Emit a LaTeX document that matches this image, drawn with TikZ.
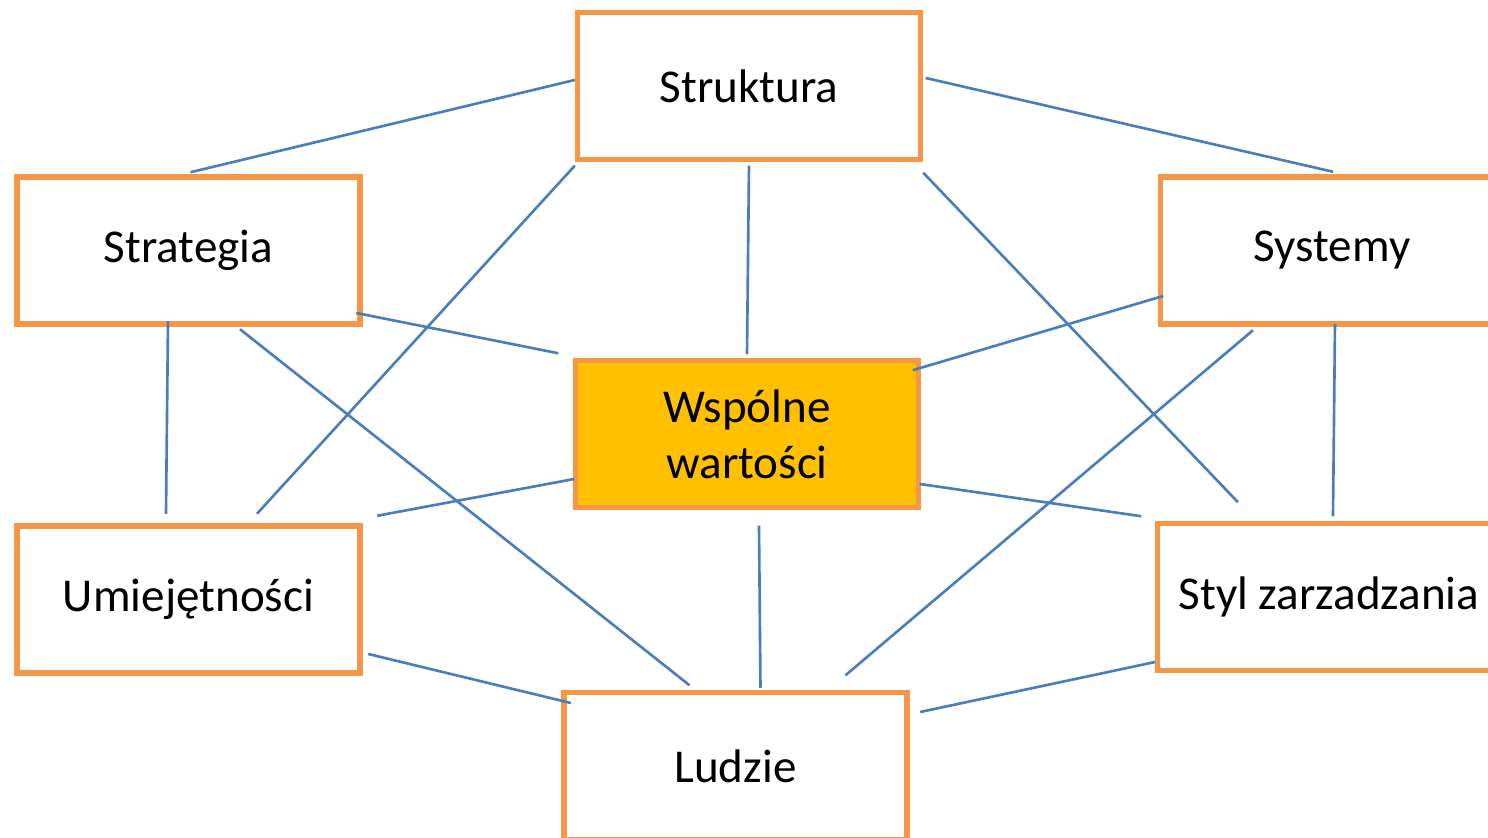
\documentclass[tikz,border=0pt]{standalone}
\usepackage{fontspec}
\setmainfont{Carlito}
\usepackage{tikz}
\usetikzlibrary{positioning,calc}
\usepackage{xcolor}

\definecolor{ramka}{HTML}{F79646}
\definecolor{zloty}{HTML}{FFC000}
\definecolor{linia}{HTML}{4A7EBB}

\begin{document}
\begin{tikzpicture}[
        % Estilos
        box/.style={rectangle, draw=ramka, line width=1.55pt, fill=white, minimum width=3.43cm, minimum height=1.47cm, inner sep=0pt, align=center, font=\fontsize{13.4}{16}\selectfont},
        core/.style={box, fill=zloty},
        link/.style={draw=linia, line width=0.75pt}
    ]
        \useasboundingbox (0,0) rectangle (14.88,8.38);

        % Pierścień siedmiu elementów
        \node (struktura) [box] at (7.49,7.52) {Struktura};
        \node (strategia) [box] at (1.885,5.875) {Strategia};
        \node (systemy) [box] at (13.32,5.875) {Systemy};
        \node (wartosci) [core] at (7.47,4.04) {Wspólne\\wartości};
        \node (umiejetnosci) [box] at (1.885,2.385) {Umiejętności};
        \node (styl) [box] at (13.29,2.41) {Styl zarzadzania};
        \node (ludzie) [box] at (7.355,0.72) {Ludzie};

        % --- Linie połączeń ---

        % Od struktury
        \draw [link] ([shift={(0,0.06)}]struktura.west) -- ([shift={(0.02,0.02)}]strategia.north);
        \draw [link] ([shift={(0.025,0.08)}]struktura.east) -- ([shift={(0.01,0.025)}]systemy.north);
        \draw [link] ([shift={(0,-0.035)}]struktura.south west) -- ([shift={(0.685,0.095)}]umiejetnosci.north);
        \draw [link] ([shift={(0,-0.035)}]struktura.south) -- ([shift={(0,0.035)}]wartosci.north);
        \draw [link] ([shift={(0,-0.105)}]struktura.south east) -- ([shift={(-0.91,0.185)}]styl.north);

        % Od strategii
        \draw [link] ([shift={(-0.065,-0.625)}]strategia.east) -- ([shift={(-0.145,0.045)}]wartosci.north west);
        \draw [link] ([shift={(-0.205,0.055)}]strategia.south) -- ([shift={(-0.225,0.095)}]umiejetnosci.north);
        \draw [link] ([shift={(0.515,-0.025)}]strategia.south) -- ([shift={(-0.46,0.045)}]ludzie.north);

        % Od systemów
        \draw [link] ([shift={(0.055,-0.455)}]systemy.west) -- ([shift={(-0.085,-0.125)}]wartosci.north east);
        \draw [link] ([shift={(-0.79,-0.035)}]systemy.south) -- ([shift={(1.10,0.145)}]ludzie.north);
        \draw [link] ([shift={(0.03,0.025)}]systemy.south) -- ([shift={(0.04,0.045)}]styl.north);

        % Od wspólnych wartości
        \draw [link] ([shift={(0.015,-0.45)}]wartosci.west) -- ([shift={(0.145,0.075)}]umiejetnosci.north east);
        \draw [link] ([shift={(-0.015,-0.5)}]wartosci.east) -- ([shift={(-0.135,0.045)}]styl.north west);
        \draw [link] ([shift={(0.12,-0.155)}]wartosci.south) -- ([shift={(0.25,0.02)}]ludzie.north);

        % Do ludzi
        \draw [link] ([shift={(0.055,-0.545)}]umiejetnosci.east) -- ([shift={(0.095,0.63)}]ludzie.west);
        \draw [link] ([shift={(0.005,-0.65)}]styl.west) -- ([shift={(0.105,0.54)}]ludzie.east);

    \end{tikzpicture}
\end{document}
